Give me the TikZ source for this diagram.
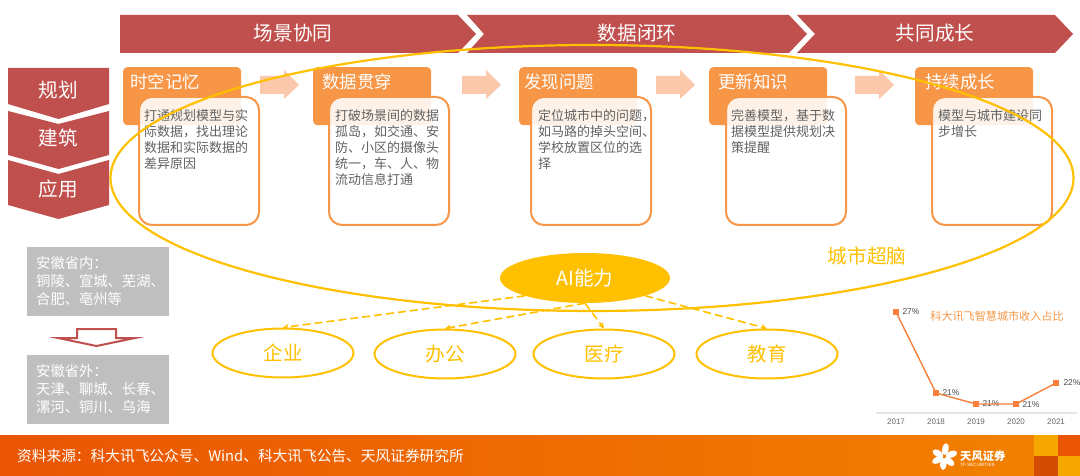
\documentclass[tikz,border=0pt]{standalone}
\usepackage{fontspec}
\setmainfont{Noto Sans CJK SC}
\newfontfamily\arialfont{Liberation Sans}
\usepackage{tikz}
\usetikzlibrary{arrows.meta,shapes.geometric,positioning,calc}
\definecolor{bandred}{HTML}{C0504D}
\definecolor{boxorange}{HTML}{F79646}
\definecolor{paleorange}{HTML}{FBC8AC}
\definecolor{aiyellow}{HTML}{FFC000}
\definecolor{boxgrey}{HTML}{BFBFBF}
\definecolor{footA}{HTML}{EA5504}
\definecolor{footB}{HTML}{F28200}
\newcommand{\px}[1]{\fontsize{#1}{#1}\selectfont}
\newcommand{\dou}{\symbol{"FF0C}}
\newcommand{\mao}{\symbol{"FF1A}}
\tikzset{
  bandtext/.style={text=white, font=\px{19.6}},
  titlebox/.style={anchor=north west, fill=boxorange, rounded corners=4pt, minimum width=118pt, minimum height=58pt, inner sep=0pt},
  titletext/.style={anchor=west, text=white, font=\px{17.4}, inner sep=0pt},
  bodybox/.style={anchor=north west, draw=boxorange, line width=2pt, fill=white, fill opacity=0.88, rounded corners=13pt, minimum width=120pt, minimum height=128pt, inner sep=0pt},
  bodytext/.style={anchor=north west, align=left, text=black!62, font=\fontsize{13}{16}\selectfont, inner sep=0pt},
  greybox/.style={anchor=north west, fill=boxgrey, minimum width=142pt, minimum height=68.5pt, inner sep=0pt},
  greytext/.style={anchor=west, align=left, text=white, font=\fontsize{14.3}{17.7}\selectfont, inner sep=0pt},
  sceneoval/.style={ellipse, draw=aiyellow, line width=2pt, minimum width=141pt, minimum height=49pt, inner sep=0pt, text=aiyellow, font=\px{19.6}},
  dasharrow/.style={draw=aiyellow, line width=1.6pt, dash pattern=on 8pt off 4pt, -{Stealth[length=6pt,width=6pt]}},
  ptmark/.style={fill=boxorange!85!red, minimum size=5.5pt, inner sep=0pt},
  pctlabel/.style={text=black!70, font=\arialfont\px{8.5}, inner sep=0pt},
  yearlabel/.style={text=black!60, font=\arialfont\px{8}, inner sep=0pt}
}
\begin{document}
\begin{tikzpicture}[x=1pt,y=-1pt]
\useasboundingbox (0,0) rectangle (1080,476);
\foreach \a/\b/\c/\d in {120/120/458/476,467/484/789/807,797/815/1055/1073} {
  \fill[bandred] (\a,15) -- (\c,15) -- (\d,34) -- (\c,53) -- (\a,53) -- (\b,34) -- cycle;
}
\foreach \n/\x/\l in {bandA/293/场景协同,bandB/637/数据闭环,bandC/935/共同成长} {
  \node[bandtext] (\n) at (\x,33) {\l};
}
\fill[bandred] (8,68) -- (109,68) -- (109,104) -- (58.5,119) -- (8,104) -- cycle;
\fill[bandred] (8,111) -- (58.5,124) -- (109,111) -- (109,155) -- (58.5,169) -- (8,155) -- cycle;
\fill[bandred] (8,160) -- (58.5,174) -- (109,160) -- (109,205) -- (58.5,219) -- (8,205) -- cycle;
\foreach \n/\y/\l in {guihua/90/规划,jianzhu/138/建筑,yingyong/189/应用} {
  \node[bandtext] (\n) at (58,\y) {\l};
}
\foreach \x in {260,462,656,855} {
  \fill[paleorange] (\x,76) -- (\x+24,76) -- (\x+24,70) -- (\x+39,85) -- (\x+24,99) -- (\x+24,94) -- (\x,94) -- cycle;
}
\foreach \n/\x/\tx/\bx/\t in {
  tA/123/130/138/时空记忆,
  tB/313/322/328/数据贯穿,
  tC/519/524/530/发现问题,
  tD/709/718/725/更新知识,
  tE/915/925/931/持续成长} {
  \node[titlebox] (\n) at (\x,67) {};
  \node[titletext] (\n text) at (\tx,82) {\t};
  \node[bodybox] (\n body) at (\bx,96) {};
}
\node[bodytext] (bodyA) at (144,109) {打通规划模型与实\\际数据\dou{}找出理论\\数据和实际数据的\\差异原因};
\node[bodytext] (bodyB) at (335,109) {打破场景间的数据\\孤岛\dou{}如交通、安\\防、小区的摄像头\\统一\dou{}车、人、物\\流动信息打通};
\node[bodytext] (bodyC) at (538,109) {定位城市中的问题\dou{}\\如马路的掉头空间、\\学校放置区位的选\\择};
\node[bodytext] (bodyD) at (731,109) {完善模型\dou{}基于数\\据模型提供规划决\\策提醒};
\node[bodytext] (bodyE) at (938,109) {模型与城市建设同\\步增长};
\node[ellipse, draw=aiyellow, line width=2.2pt, minimum width=963pt, minimum height=266pt, inner sep=0pt] (naoA) at (592,178) {};
\node[text=aiyellow, font=\px{19.6}] (naolabel) at (867,256) {城市超脑};
\node[ellipse, fill=aiyellow, text=white, font=\px{19.6}, minimum width=170pt, minimum height=50pt, inner sep=0pt] (ai) at (585,278) {AI能力};
\node[sceneoval] (qiye) at (283,353) {企业};
\node[sceneoval] (bangong) at (445,354) {办公};
\node[sceneoval] (yiliao) at (604,354) {医疗};
\node[sceneoval] (jiaoyu) at (767,354) {教育};
\draw[dasharrow] (ai.south west) -- (qiye.north);
\draw[dasharrow] (ai.south) -- (bangong.north);
\draw[dasharrow] (ai.south) -- (yiliao.north);
\draw[dasharrow] (ai.south east) -- (jiaoyu.north);
\node[greybox] (inner) at (27,247) {};
\node[greytext] (innertext) at (36,281) {安徽省内\mao{}\\铜陵、宣城、芜湖、\\合肥、亳州等};
\node[greybox] (outer) at (27,355) {};
\node[greytext] (outertext) at (36,389) {安徽省外\mao{}\\天津、聊城、长春、\\漯河、铜川、乌海};
\draw[bandred, line width=2pt, line join=miter] (77,329) -- (116,329) -- (116,338) -- (135,338) -- (96.5,346) -- (58,338) -- (77,338) -- cycle;
\node[text=boxorange, font=\px{11.1}] (charttitle) at (997,316) {科大讯飞智慧城市收入占比};
\draw[black!10, line width=1.5pt] (876,413) -- (1077,413);
\foreach \n/\x/\y/\l/\lx/\ly in {
  p17/896/312/27\%/911/312,
  p18/936/393/21\%/951/393,
  p19/976/404/21\%/991/404,
  p20/1016/404/21\%/1031/405,
  p21/1056/383/22\%/1072/383} {
  \node[ptmark] (\n) at (\x,\y) {};
  \node[pctlabel] (\n lab) at (\lx,\ly) {\l};
}
\draw[boxorange!85!red, line width=1.4pt] (p17) -- (p18) -- (p19) -- (p20) -- (p21);
\foreach \x/\l in {896/2017,936/2018,976/2019,1016/2020,1056/2021} {
  \node[yearlabel] (y\l) at (\x,422) {\l};
}
\shade[left color=footA, right color=footB] (0,435) rectangle (1080,476);
\node[anchor=west, text=white, font=\px{14.7}, inner sep=0pt] (source) at (17,456) {资料来源\mao{}科大讯飞公众号、Wind、科大讯飞公告、天风证券研究所};
\foreach \a/\l in {80/8,20/8,-40/7,150/7,205/7,265/7} {
  \fill[white, shift={(944,457)}, rotate=\a] (\l,0) ellipse (6pt and 3.2pt);
}
\node[text=white, font=\bfseries\px{11.3}, anchor=west, inner sep=0pt] (tflogo) at (960,456) {天风证券};
\node[text=white, font=\arialfont\px{4.6}, anchor=west, inner sep=0pt] (tfsub) at (960,465) {TF SECURITIES};
\fill[footB!70!yellow] (1034,435) rectangle (1058,456);
\fill[footA] (1058,435) rectangle (1080,456);
\fill[footA!90!black] (1034,456) rectangle (1058,476);
\fill[footB!70!yellow] (1058,456) rectangle (1080,476);
\end{tikzpicture}
\end{document}
